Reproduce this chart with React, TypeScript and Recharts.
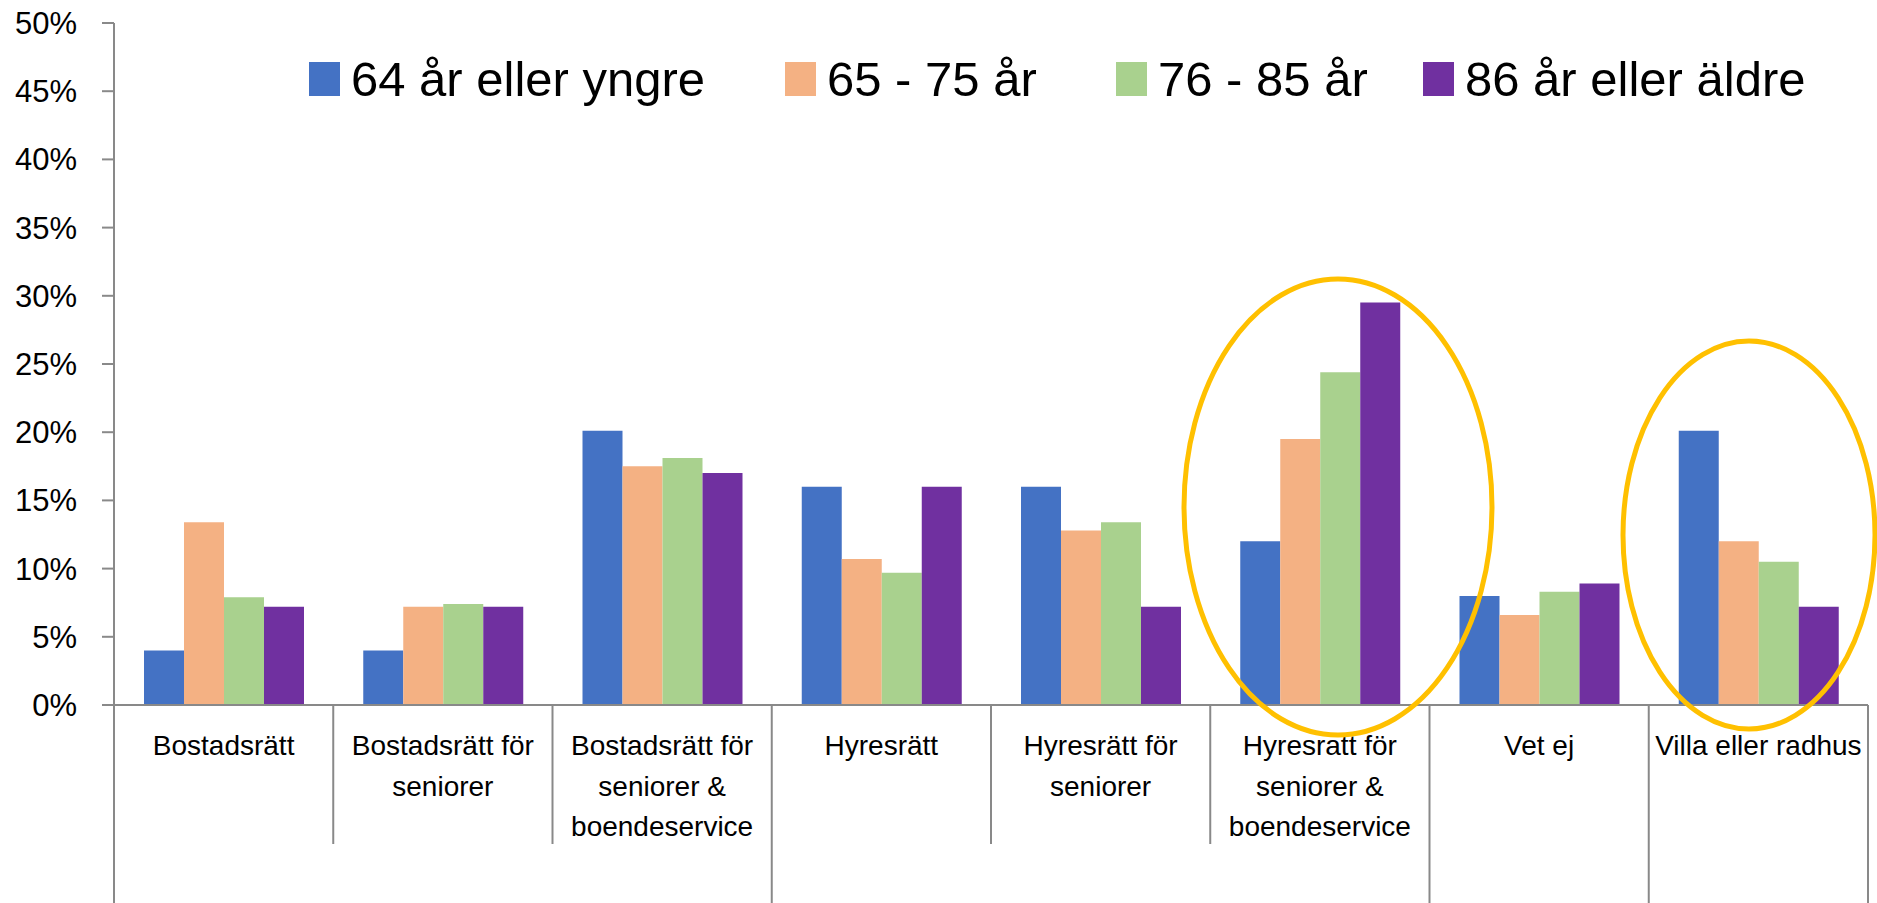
import { Bar, BarChart, XAxis, YAxis } from 'recharts';

// Boendeform per åldersgrupp — andel svarande (0–50 %).
const categories = [
  'Bostadsrätt',
  'Bostadsrätt för seniorer',
  'Bostadsrätt för seniorer & boendeservice',
  'Hyresrätt',
  'Hyresrätt för seniorer',
  'Hyresratt för seniorer & boendeservice',
  'Vet ej',
  'Villa eller radhus',
];

const under65 = [0.04, 0.04, 0.201, 0.16, 0.16, 0.12, 0.08, 0.201];
const age65to75 = [0.134, 0.072, 0.175, 0.107, 0.128, 0.195, 0.066, 0.12];
const age76to85 = [0.079, 0.074, 0.181, 0.097, 0.134, 0.244, 0.083, 0.105];
const age86plus = [0.072, 0.072, 0.17, 0.16, 0.072, 0.295, 0.089, 0.072];

const yTicks = [0, 0.05, 0.1, 0.15, 0.2, 0.25, 0.3, 0.35, 0.4, 0.45, 0.5];

// outer grouping of the two-level axis: a long divider starts these groups
const groupStarts = [0, 3, 6, 7];

const SERIES = [
  { key: 'under65', name: '64 år eller yngre', color: '#4472C4' },
  { key: 'age65to75', name: '65 - 75 år', color: '#F4B183' },
  { key: 'age76to85', name: '76 - 85 år', color: '#A9D18E' },
  { key: 'age86plus', name: '86 år eller äldre', color: '#7030A0' },
];

const data = categories.map((c, i) => ({
  category: c,
  under65: under65[i],
  age65to75: age65to75[i],
  age76to85: age76to85[i],
  age86plus: age86plus[i],
}));

const W = 1877;
const H = 903;
const MARGIN = { top: 23, right: 9, bottom: 0, left: 0 };
const Y_WIDTH = 114;
const X_HEIGHT = 198;
const BAND = (W - MARGIN.right - Y_WIDTH) / categories.length;
const FONT = '"Liberation Sans", Arial, sans-serif';
const AXIS = '#898989';

function wrap(label: string) {
  // break after "för" and "&" like the original axis
  const lines: string[] = [];
  let cur = '';
  for (const w of label.split(' ')) {
    cur = cur ? `${cur} ${w}` : w;
    if (w === 'för' || w === '&') {
      lines.push(cur);
      cur = '';
    }
  }
  if (cur) lines.push(cur);
  return lines;
}

function CategoryTick(props: any) {
  const { x, y, payload, index } = props;
  const left = x - BAND / 2;
  const long = groupStarts.includes(index);
  const isLast = index === categories.length - 1;
  return (
    <g>
      <line x1={left} x2={left} y1={y} y2={y + (long ? 198 : 139)} stroke={AXIS} strokeWidth={2} />
      {isLast ? (
        <line x1={left + BAND} x2={left + BAND} y1={y} y2={y + 198} stroke={AXIS} strokeWidth={2} />
      ) : null}
      <text textAnchor="middle" fontFamily={FONT} fontSize={28} fill="#000">
        {wrap(payload.value).map((l, i) => (
          <tspan key={i} x={x} y={y + 50 + i * 40.5}>
            {l}
          </tspan>
        ))}
      </text>
    </g>
  );
}

const LEGEND_LEFT = [309, 785, 1116, 1423];

export default function App() {
  return (
    <div style={{ position: 'absolute', left: 0, top: 0, width: W, height: H, background: '#fff' }}>
      <BarChart
        width={W}
        height={H}
        data={data}
        margin={MARGIN}
        barGap={0}
        barSize={40}
      >
        <XAxis
          dataKey="category"
          height={X_HEIGHT}
          interval={0}
          tickSize={0}
          tickMargin={0}
          tickLine={false}
          axisLine={{ stroke: AXIS, strokeWidth: 2 }}
          tick={<CategoryTick />}
        />
        <YAxis
          width={Y_WIDTH}
          domain={[0, 0.5]}
          ticks={yTicks}
          interval={0}
          tickSize={12}
          tickMargin={25}
          tickFormatter={(v: number) => `${Math.round(v * 100)}%`}
          tick={{ fontFamily: FONT, fontSize: 31, fill: '#000' }}
          tickLine={{ stroke: AXIS, strokeWidth: 2 }}
          axisLine={{ stroke: AXIS, strokeWidth: 2 }}
        />
        {SERIES.map((s) => (
          <Bar key={s.key} dataKey={s.key} name={s.name} fill={s.color} isAnimationActive={false} />
        ))}
      </BarChart>

      {SERIES.map((s, i) => (
        <div
          key={s.key}
          style={{
            position: 'absolute',
            left: LEGEND_LEFT[i],
            top: 52,
            height: 54,
            display: 'flex',
            alignItems: 'center',
            fontFamily: FONT,
            fontSize: 49,
            color: '#000',
            whiteSpace: 'nowrap',
          }}
        >
          <span style={{ width: 31, height: 34, background: s.color, marginRight: 11 }} />
          {s.name}
        </div>
      ))}

      {/* highlight rings drawn over the plot */}
      <svg width={W} height={H} style={{ position: 'absolute', left: 0, top: 0, pointerEvents: 'none' }}>
        <ellipse cx={1338} cy={507} rx={154} ry={228} fill="none" stroke="#FFC000" strokeWidth={5} />
        <ellipse cx={1749} cy={535} rx={126} ry={194} fill="none" stroke="#FFC000" strokeWidth={5} />
      </svg>
    </div>
  );
}
